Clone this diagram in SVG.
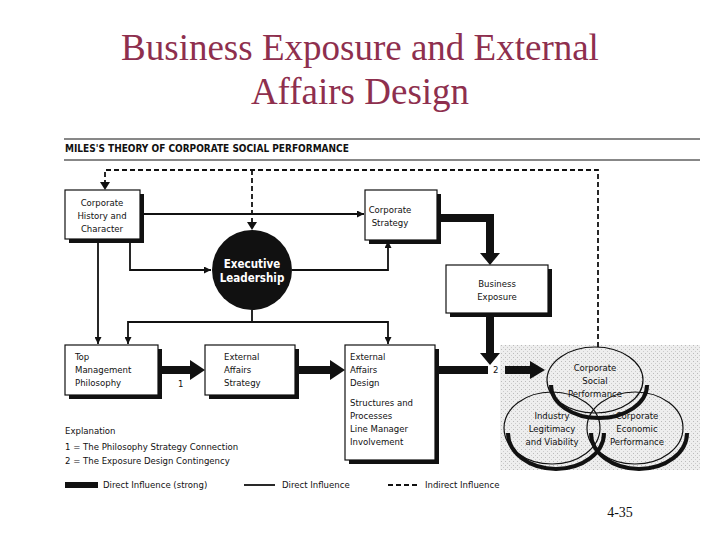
<svg xmlns="http://www.w3.org/2000/svg" width="720" height="540" viewBox="0 0 720 540">
<defs>
<style>
.t{font-family:"Liberation Serif",serif;font-size:37px;fill:#8e2f4e;text-anchor:middle}
.s{font-family:"DejaVu Sans Condensed","Liberation Sans",sans-serif;font-size:9.5px;fill:#111;font-stretch:condensed}
.c{text-anchor:middle}
.box{fill:#fff;stroke:#111;stroke-width:1.2}
.sh{fill:#111}
.thin{fill:none;stroke:#111;stroke-width:1.8}
.dash{fill:none;stroke:#111;stroke-width:1.8;stroke-dasharray:5,3}
.thick{fill:none;stroke:#111;stroke-width:8}
.cr{fill:none;stroke:#111;stroke-width:4}
</style>
<marker id="a" viewBox="0 0 10 10" refX="10" refY="5" markerWidth="7" markerHeight="7" markerUnits="userSpaceOnUse" orient="auto"><path d="M0,0L10,5L0,10z" fill="#111"/></marker>
<pattern id="st" width="4" height="4" patternUnits="userSpaceOnUse"><rect width="4" height="4" fill="#eee"/><rect x="1" y="1" width="1" height="1" fill="#bbb"/><rect x="3" y="3" width="1" height="1" fill="#ccc"/></pattern>
</defs>
<rect width="720" height="540" fill="#fff"/>
<text class="t" x="360" y="60">Business Exposure and External</text>
<text class="t" x="360" y="104">Affairs Design</text>
<line x1="64" y1="139" x2="700" y2="139" stroke="#111" stroke-width="1"/>
<text class="s" x="65" y="152" style="font-weight:bold;font-size:10px">MILES'S THEORY OF CORPORATE SOCIAL PERFORMANCE</text>
<line x1="64" y1="160" x2="700" y2="160" stroke="#111" stroke-width="1"/>
<rect x="500" y="345" width="200" height="125" fill="url(#st)"/>
<g id="connectors">
<path class="dash" d="M105,185V170H598V348"/>
<path d="M100,182L110,182L105,190z" fill="#111"/>
<path class="dash" d="M252,170V222"/>
<path d="M247,222L257,222L252,230z" fill="#111"/>
<path class="thin" d="M140,214H364" marker-end="url(#a)"/>
<path class="thin" d="M130,239V270H211" marker-end="url(#a)"/>
<path class="thin" d="M292,270H388V241" marker-end="url(#a)"/>
<path class="thin" d="M98,239V344" marker-end="url(#a)"/>
<path class="thin" d="M252,310V322H128V344" marker-end="url(#a)"/>
<path class="thin" d="M252,322H388V344" marker-end="url(#a)"/>
<path class="thick" d="M437,218H490V255"/>
<path d="M480,253L500,253L490,265z" fill="#111"/>
<path class="thick" d="M490,313V355"/>
<path d="M480,353L500,353L490,365z" fill="#111"/>
<path class="thick" d="M158,370H192"/>
<path d="M190,360L205,370L190,380z" fill="#111"/>
<path class="thick" d="M295,370H332"/>
<path d="M330,360L345,370L330,380z" fill="#111"/>
<path class="thick" d="M435,370H488"/>
<path class="thick" d="M505,370H532"/>
<path d="M530,361L545,370L530,379z" fill="#111"/>
</g>
<g id="n1"><rect class="sh" x="69" y="194" width="75" height="49"/><rect class="box" x="65" y="190" width="75" height="49"/>
<text class="s c" x="102" y="206">Corporate</text><text class="s c" x="102" y="219">History and</text><text class="s c" x="102" y="232">Character</text></g>
<g id="n2"><rect class="sh" x="369" y="194" width="72" height="50"/><rect class="box" x="365" y="190" width="72" height="50"/>
<text class="s c" x="390" y="213">Corporate</text><text class="s c" x="390" y="226">Strategy</text></g>
<g id="n3"><circle cx="252" cy="270" r="40" fill="#111"/>
<text class="s c" x="252" y="268" style="fill:#fff;font-weight:bold;font-size:11.5px">Executive</text><text class="s c" x="252" y="282" style="fill:#fff;font-weight:bold;font-size:11.5px">Leadership</text></g>
<g id="n4"><rect class="sh" x="450" y="269" width="102" height="48"/><rect class="box" x="446" y="265" width="102" height="48"/>
<text class="s c" x="497" y="287">Business</text><text class="s c" x="497" y="300">Exposure</text></g>
<g id="n5"><rect class="sh" x="69" y="349" width="93" height="50"/><rect class="box" x="65" y="345" width="93" height="50"/>
<text class="s" x="75" y="360">Top</text><text class="s" x="75" y="373">Management</text><text class="s" x="75" y="386">Philosophy</text></g>
<g id="n6"><rect class="sh" x="209" y="349" width="90" height="50"/><rect class="box" x="205" y="345" width="90" height="50"/>
<text class="s" x="224" y="360">External</text><text class="s" x="224" y="373">Affairs</text><text class="s" x="224" y="386">Strategy</text></g>
<g id="n7"><rect class="sh" x="349" y="349" width="90" height="115"/><rect class="box" x="345" y="345" width="90" height="115"/>
<text class="s" x="350" y="360">External</text><text class="s" x="350" y="373">Affairs</text><text class="s" x="350" y="386">Design</text>
<text class="s" x="350" y="406">Structures and</text><text class="s" x="350" y="419">Processes</text><text class="s" x="350" y="432">Line Manager</text><text class="s" x="350" y="445">Involvement</text></g>
<g id="n8"><path class="cr" d="M547,382A48,33 0 0 0 643,382" transform="translate(4,3)"/><ellipse cx="595" cy="380" rx="48" ry="33" fill="none" stroke="#111" stroke-width="1.2"/>
<text class="s c" x="595" y="371">Corporate</text><text class="s c" x="595" y="384">Social</text><text class="s c" x="595" y="397">Performance</text></g>
<g id="n9"><path class="cr" d="M504,430A48,36 0 0 0 600,430" transform="translate(4,3)"/><ellipse cx="552" cy="428" rx="48" ry="36" fill="none" stroke="#111" stroke-width="1.2"/>
<text class="s c" x="552" y="419">Industry</text><text class="s c" x="552" y="432">Legitimacy</text><text class="s c" x="552" y="445">and Viability</text></g>
<g id="n10"><path class="cr" d="M587,430A48,36 0 0 0 683,430" transform="translate(4,3)"/><ellipse cx="635" cy="428" rx="48" ry="36" fill="none" stroke="#111" stroke-width="1.2"/>
<text class="s c" x="637" y="419">Corporate</text><text class="s c" x="637" y="432">Economic</text><text class="s c" x="637" y="445">Performance</text></g>
<text class="s" x="178" y="387">1</text>
<text class="s" x="493" y="373">2</text>
<text class="s" x="65" y="434">Explanation</text>
<text class="s" x="65" y="450">1 = The Philosophy Strategy Connection</text>
<text class="s" x="65" y="464">2 = The Exposure Design Contingency</text>
<rect x="65" y="482" width="33" height="6" fill="#111"/>
<text class="s" x="103" y="488">Direct Influence (strong)</text>
<line x1="244" y1="485" x2="275" y2="485" stroke="#111" stroke-width="1.8"/>
<text class="s" x="282" y="488">Direct Influence</text>
<line class="dash" x1="388" y1="485" x2="419" y2="485"/>
<text class="s" x="425" y="488">Indirect Influence</text>
<text x="620" y="517" style="font-family:'Liberation Serif',serif;font-size:14px;fill:#111;text-anchor:middle">4-35</text>
</svg>
